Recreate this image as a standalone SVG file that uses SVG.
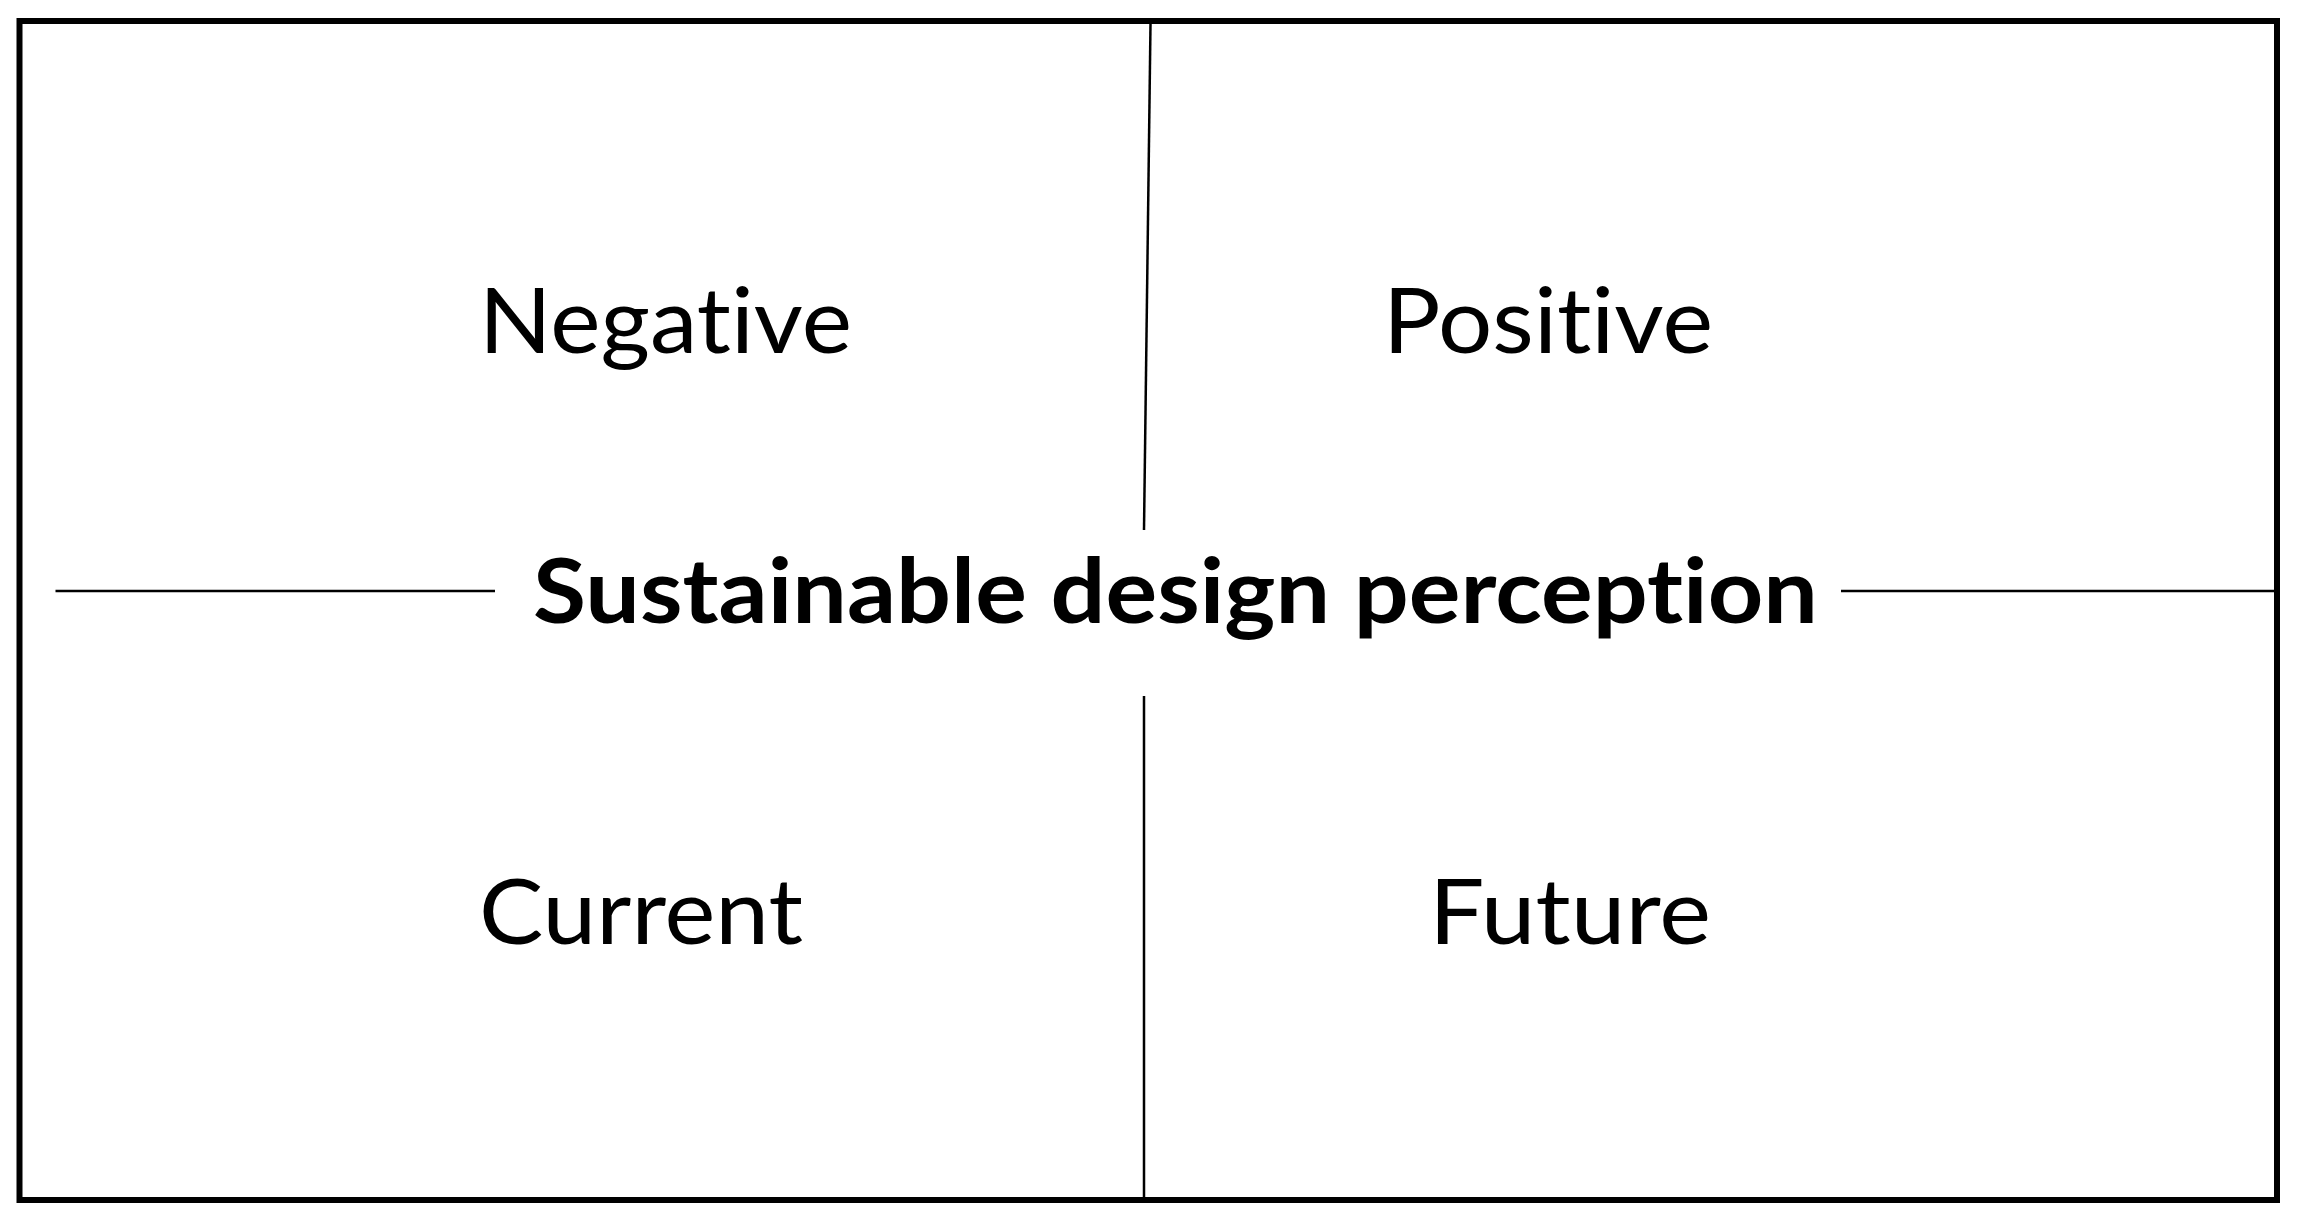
<svg xmlns="http://www.w3.org/2000/svg" width="2298" height="1219" viewBox="0 0 2298 1219">
<style>
.lbl{font-family:Lato,"Liberation Sans",sans-serif;font-size:92px;fill:#000;font-variant-ligatures:none;font-feature-settings:"liga" 0,"clig" 0}
.title{font-family:Lato,"Liberation Sans",sans-serif;font-size:90px;font-weight:bold;fill:#000;font-variant-ligatures:none;font-feature-settings:"liga" 0,"clig" 0}
.ln{stroke:#000;stroke-width:2.5;fill:none}
</style>
<rect x="0" y="0" width="2298" height="1219" fill="#fff"/>
<g id="frame">
<rect x="19.5" y="21" width="2257.5" height="1179" fill="none" stroke="#000" stroke-width="6"/>
</g>
<g id="connectors">
<line class="ln" x1="1150.5" y1="24" x2="1144" y2="530"/>
<line class="ln" x1="1144" y1="696" x2="1144" y2="1197"/>
<line class="ln" x1="55.5" y1="591" x2="495" y2="591"/>
<line class="ln" x1="1841" y1="591" x2="2274" y2="591"/>
</g>
<g id="node-negative"><text class="lbl" x="479" y="353" textLength="373" lengthAdjust="spacingAndGlyphs">Negative</text></g>
<g id="node-positive"><text class="lbl" x="1383" y="353" textLength="330" lengthAdjust="spacingAndGlyphs">Positive</text></g>
<g id="node-center"><text class="title" x="533" y="623" textLength="1285" lengthAdjust="spacingAndGlyphs">Sustainable design perception</text></g>
<g id="node-current"><text class="lbl" x="479" y="944" textLength="324" lengthAdjust="spacingAndGlyphs">Current</text></g>
<g id="node-future"><text class="lbl" x="1429" y="944" textLength="282" lengthAdjust="spacingAndGlyphs">Future</text></g>
</svg>
